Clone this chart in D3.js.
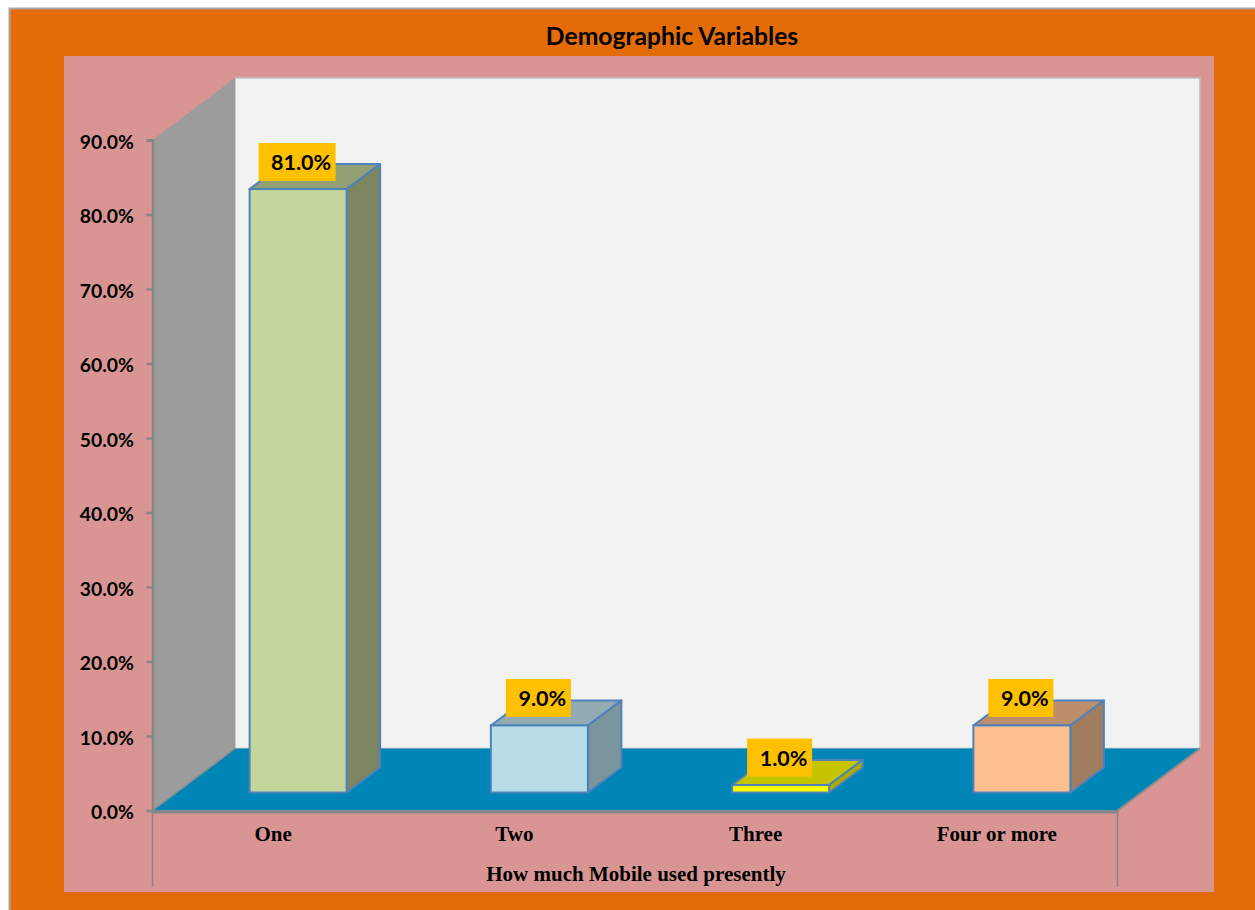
<!DOCTYPE html>
<html><head><meta charset="utf-8">
<script src="https://cdn.jsdelivr.net/npm/d3@7/dist/d3.min.js"></script>
<style>html,body{margin:0;padding:0;background:#fff;overflow:hidden}svg{display:block}</style>
</head><body><svg id="c" width="1255" height="910"></svg>
<script>
const categories = ["One","Two","Three","Four or more"];
const values = [81,9,1,9];
const valueLabels = ["81.0%","9.0%","1.0%","9.0%"];
const yTicks = [0,10,20,30,40,50,60,70,80,90];
const frontColors = ["#C3D69B","#B7DEE8","#FFFF00","#FCC08F"];
const topColors = ["#939F74","#93ABB2","#C4C400","#BD8E6C"];
const sideColors = ["#7C8660","#7B959C","#ABAB00","#A07D5E"];
const titleText = "Demographic Variables";
const xTitleText = "How much Mobile used presently";

const svg = d3.select("#c");
const y = d3.scaleLinear().domain([0,90]).range([810.5,140]);
const x = d3.scaleBand().domain(categories).range([152.5,1117.5]);
const poly = (pts,fill,stroke,sw) => svg.append("polygon").attr("points",pts.map(p=>p.join(",")).join(" "))
  .attr("fill",fill).attr("stroke",stroke||"none").attr("stroke-width",sw||0).attr("stroke-linejoin","round");

// frame
svg.append("rect").attr("x",9.5).attr("y",8.5).attr("width",1250).attr("height",905).attr("fill","#E36C09").attr("stroke","#A6A6A6").attr("stroke-width",2);
svg.append("rect").attr("x",64).attr("y",56).attr("width",1150).attr("height",836).attr("fill","#D99594");

// 3D walls
const wallDx = 82.5, wallDy = 62, x0 = 152.5, x1 = 1117.5, yBase = y(0), yTop = y(90);
svg.append("rect").attr("x",x0+wallDx).attr("y",yTop-wallDy).attr("width",x1-x0).attr("height",yBase-yTop)
  .attr("fill","#F2F2F2").attr("stroke","#BFBFBF").attr("stroke-width",1.5);
poly([[x0,yBase],[x0,yTop],[x0+wallDx,yTop-wallDy],[x0+wallDx,yBase-wallDy]],"#9C9C9C");
poly([[x0,yBase],[x0+wallDx,yBase-wallDy],[x1+wallDx,yBase-wallDy],[x1,yBase]],"#0085B7");
svg.append("line").attr("x1",x1).attr("y1",yBase).attr("x2",x1+wallDx).attr("y2",yBase-wallDy).attr("stroke","#8C8C8C").attr("stroke-width",2);
svg.append("line").attr("x1",x0).attr("y1",yBase).attr("x2",x0+wallDx).attr("y2",yBase-wallDy).attr("stroke","#8C8C8C").attr("stroke-width",1.5);

// axes
const gy = svg.append("g").attr("transform",`translate(${x0},0)`)
  .call(d3.axisLeft(y).tickValues(yTicks).tickSize(6).tickPadding(12.5).tickFormat(d=>d3.format(".1f")(d)+"%"));
gy.selectAll("path,line").attr("stroke","#868686").attr("stroke-width",2.5);
gy.selectAll("text").attr("font-family","Lato, sans-serif").attr("font-weight",700).attr("font-size",19.4).attr("fill","#000").attr("dy","0.42em");

const gx = svg.append("g").attr("transform",`translate(0,${yBase+1})`)
  .call(d3.axisBottom(x).tickSize(0).tickPadding(15));
gx.select("path").attr("stroke","#868686").attr("stroke-width",3);
gx.selectAll("text").attr("font-family","'Liberation Serif', serif").attr("font-weight",700).attr("font-size",21).attr("fill","#000");
[x0,x1].forEach(v=>svg.append("line").attr("x1",v).attr("x2",v).attr("y1",yBase).attr("y2",887).attr("stroke","#868686").attr("stroke-width",1.5));

// bars
const barW = 97, barShift = 25, frontLift = 18, dx = 33.5, dy = 25, stroke = "#4F81BD";
categories.forEach((c,i)=>{
  const l = x(c)+x.bandwidth()/2+barShift-barW/2, r = l+barW;
  const b = yBase-frontLift, t = y(values[i])-frontLift;
  poly([[l,t],[r,t],[r+dx,t-dy],[l+dx,t-dy]],topColors[i],stroke,2);
  poly([[r,t],[r+dx,t-dy],[r+dx,b-dy],[r,b]],sideColors[i],stroke,2);
  svg.append("rect").attr("x",l).attr("y",t).attr("width",barW).attr("height",b-t)
    .attr("fill",frontColors[i]).attr("stroke",stroke).attr("stroke-width",2);
  const boxW = i===0?77:65, boxH = 38, bx = l+(i===0?9:15), by = t-(i===0?46:46.5);
  svg.append("rect").attr("x",bx).attr("y",by).attr("width",boxW).attr("height",boxH).attr("fill","#FFC000");
  svg.append("text").attr("x",bx+boxW/2+4).attr("y",by+boxH/2).attr("dy","0.38em").attr("text-anchor","middle")
    .attr("font-family","Lato, sans-serif").attr("font-weight",700).attr("font-size",21.5).attr("fill","#000").text(valueLabels[i]);
});

// titles
svg.append("text").attr("x",672).attr("y",36).attr("dy","0.36em").attr("text-anchor","middle")
  .attr("font-family","Lato, sans-serif").attr("font-weight",700).attr("font-size",24.7).attr("fill","#000").text(titleText);
svg.append("text").attr("x",636).attr("y",874).attr("dy","0.33em").attr("text-anchor","middle")
  .attr("font-family","'Liberation Serif', serif").attr("font-weight",700).attr("font-size",21).attr("fill","#000").text(xTitleText);
</script></body></html>
